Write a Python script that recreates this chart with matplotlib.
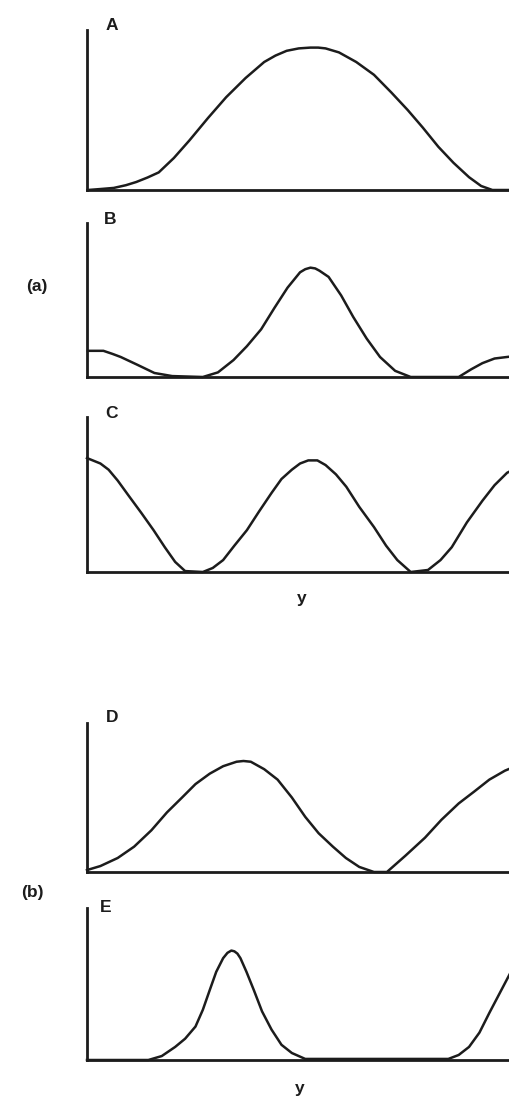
import numpy as np
import matplotlib.pyplot as plt

plt.rcParams['font.family'] = ['Liberation Sans', 'DejaVu Sans']

# position along y (0-100 across each panel) and curve height (fraction of axis height)
pos_a = [0.2, 3.1, 6.2, 9.0, 11.4, 14.0, 16.6, 20.1, 23.7, 28.0, 32.2, 36.7, 41.0, 43.6,
         46.2, 49.0, 51.7, 53.5, 55.2, 58.3, 62.3, 66.4, 70.4, 74.2, 77.7, 81.3, 84.8,
         88.4, 91.2, 93.8, 100]
val_a = [0, 0.006, 0.013, 0.03, 0.05, 0.078, 0.11, 0.20, 0.31, 0.45, 0.58, 0.70, 0.80, 0.84,
         0.87, 0.885, 0.89, 0.89, 0.885, 0.86, 0.80, 0.72, 0.61, 0.50, 0.39, 0.27, 0.17,
         0.08, 0.025, 0, 0]

pos_b = [0.2, 3.8, 5.9, 7.8, 11.6, 15.6, 19.7, 26.8, 30.3, 33.9, 37.0, 40.3, 43.4, 46.4,
         49.3, 50.5, 51.7, 52.8, 53.8, 55.9, 58.8, 61.6, 64.7, 67.8, 71.3, 74.9, 86.0,
         88.9, 91.5, 94.3, 97.2, 100]
val_b = [0.17, 0.17, 0.15, 0.13, 0.08, 0.026, 0.006, 0, 0.03, 0.11, 0.20, 0.31, 0.45, 0.58,
         0.68, 0.70, 0.71, 0.705, 0.69, 0.65, 0.53, 0.39, 0.25, 0.13, 0.04, 0, 0,
         0.05, 0.09, 0.12, 0.13, 0.14]

pos_c = [0, 3.1, 5.0, 7.1, 9.7, 12.6, 15.4, 18.0, 20.4, 22.7, 26.8, 29.1, 31.5, 34.1,
         37.0, 39.8, 42.7, 45.0, 47.4, 49.3, 51.2, 53.3, 55.2, 57.6, 60.0, 63.0, 66.4,
         69.2, 71.8, 74.9, 78.9, 81.8, 84.4, 87.9, 91.5, 94.3, 97.2, 100]
val_c = [0.735, 0.70, 0.66, 0.59, 0.49, 0.38, 0.27, 0.16, 0.065, 0.006, 0, 0.026, 0.077, 0.17,
         0.27, 0.39, 0.51, 0.60, 0.66, 0.70, 0.72, 0.72, 0.69, 0.63, 0.55, 0.42, 0.29,
         0.17, 0.077, 0, 0.013, 0.077, 0.16, 0.32, 0.46, 0.56, 0.64, 0.68]

pos_d = [0, 3.1, 7.1, 10.9, 14.9, 18.5, 22.0, 25.1, 28.4, 31.5, 34.6, 36.2, 37.9, 41.0,
         44.1, 47.4, 50.5, 53.6, 56.9, 59.9, 63.0, 66.4, 69.4, 73.7, 78.2, 82.0, 86.0,
         89.6, 93.1, 96.7, 100]
val_d = [0.013, 0.04, 0.094, 0.17, 0.28, 0.40, 0.50, 0.59, 0.66, 0.71, 0.74, 0.745, 0.74,
         0.69, 0.62, 0.50, 0.37, 0.26, 0.17, 0.094, 0.034, 0, 0, 0.11, 0.23, 0.35, 0.46,
         0.54, 0.62, 0.68, 0.72]

pos_e = [0, 14.2, 17.3, 20.4, 22.7, 25.1, 26.8, 28.4, 29.9, 31.5, 32.5, 33.4, 34.1, 34.8,
         35.5, 36.9, 38.6, 40.5, 42.7, 45.0, 47.4, 50.5, 83.6, 86.0, 88.4, 90.8, 93.1,
         95.5, 97.9, 100]
val_e = [0, 0, 0.026, 0.086, 0.14, 0.22, 0.33, 0.46, 0.58, 0.67, 0.705, 0.72, 0.715, 0.70,
         0.67, 0.58, 0.46, 0.32, 0.20, 0.10, 0.046, 0.007, 0.007, 0.033, 0.086, 0.18, 0.31,
         0.44, 0.57, 0.69]

panel_names = ['A', 'B', 'C', 'D', 'E']
curves = [(pos_a, val_a), (pos_b, val_b), (pos_c, val_c), (pos_d, val_d), (pos_e, val_e)]

W, H = 509, 1099
ink = '#1c1c1c'

# (axis top, baseline) in pixels for each panel
frames = [(30, 190), (223, 377), (417, 572), (723, 872), (908, 1060)]
name_xy = [(112, 25), (110, 220), (112, 413), (112, 718), (106, 908)]

fig = plt.figure(figsize=(W / 100, H / 100), dpi=100)
fig.patch.set_facecolor('white')

left = 87 / W
for name, (xs, ys), (top, base), (nx, ny) in zip(panel_names, curves, frames, name_xy):
    ax = fig.add_axes([left, 1 - base / H, 1.02 - left, (base - top) / H])
    ax.plot(xs, ys, color=ink, lw=1.8, solid_joinstyle='round', clip_on=False)
    ax.set_xlim(0, 100)
    ax.set_ylim(0, 1)
    for s in ['top', 'right']:
        ax.spines[s].set_visible(False)
    for s in ['left', 'bottom']:
        ax.spines[s].set_linewidth(2.0)
        ax.spines[s].set_color(ink)
    ax.set_xticks([])
    ax.set_yticks([])
    ax.patch.set_alpha(0)
    fig.text(nx / W, 1 - ny / H, name, ha='center', va='center',
             fontsize=12.5, fontweight='bold', color=ink)

for txt, (tx, ty) in [('(a)', (37, 287)), ('(b)', (32, 893)),
                      ('y', (302, 598)), ('y', (300, 1088))]:
    fig.text(tx / W, 1 - ty / H, txt, ha='center', va='center',
             fontsize=12.5, fontweight='bold', color=ink)

fig.savefig('out.png', dpi=100, facecolor='white')
